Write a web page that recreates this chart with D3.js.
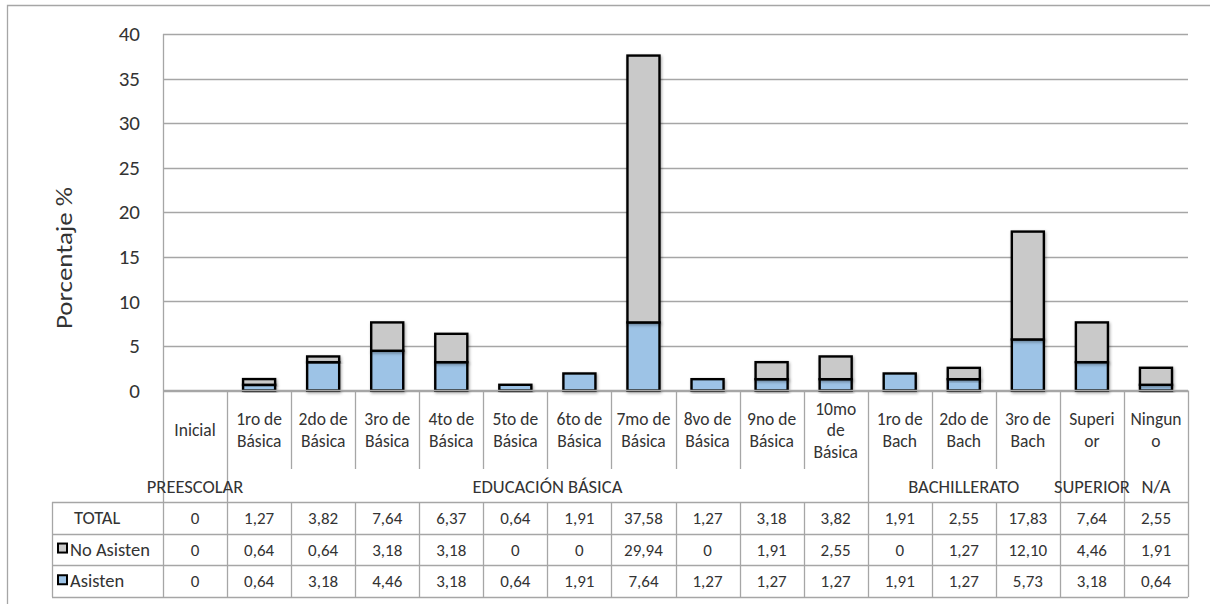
<!DOCTYPE html>
<html>
<head>
<meta charset="utf-8">
<script src="https://cdn.jsdelivr.net/npm/d3@7"></script>
<style>
  body { margin: 0; background: #fff; }
  text { font-family: Carlito, Calibri, Lato, sans-serif; fill: #333; }
</style>
</head>
<body>
<div id="chart"></div>
<script>
// categorías (cada una en líneas) y grupos
var categories = [
  ["Inicial"], ["1ro de", "Básica"], ["2do de", "Básica"], ["3ro de", "Básica"],
  ["4to de", "Básica"], ["5to de", "Básica"], ["6to de", "Básica"], ["7mo de", "Básica"],
  ["8vo de", "Básica"], ["9no de", "Básica"], ["10mo", "de", "Básica"],
  ["1ro de", "Bach"], ["2do de", "Bach"], ["3ro de", "Bach"], ["Superi", "or"], ["Ningun", "o"]
];
var groups = ["PREESCOLAR", "EDUCACIÓN BÁSICA", "BACHILLERATO", "SUPERIOR", "N/A"];
var groupSizes = [1, 10, 3, 1, 1];

var total     = [0, 1.27, 3.82, 7.64, 6.37, 0.64, 1.91, 37.58, 1.27, 3.18, 3.82, 1.91, 2.55, 17.83, 7.64, 2.55];
var noAsisten = [0, 0.64, 0.64, 3.18, 3.18, 0, 0, 29.94, 0, 1.91, 2.55, 0, 1.27, 12.10, 4.46, 1.91];
var asisten   = [0, 0.64, 3.18, 4.46, 3.18, 0.64, 1.91, 7.64, 1.27, 1.27, 1.27, 1.91, 1.27, 5.73, 3.18, 0.64];
var yTicks = [0, 5, 10, 15, 20, 25, 30, 35, 40];

var width = 1210, height = 604;
var plotLeft = 163, plotRight = 1188, plotTop = 34, zero = 390.5;
var catBottom = 469, tableTop = 502, rowH = 31.7, tableLeft = 52;
var gray = "#c9c9c9", blue = "#9dc3e6", lineCol = "#a6a6a6";
var fs = "18.5px", fsCat = "17.5px", fsNum = "17px";

var svg = d3.select("#chart").append("svg")
  .attr("width", width).attr("height", height);

var defs = svg.append("defs");
var f = defs.append("filter").attr("id", "sombra")
  .attr("x", "-30%").attr("y", "-30%").attr("width", "160%").attr("height", "160%");
f.append("feDropShadow").attr("dx", 1).attr("dy", 1.5).attr("stdDeviation", 1.6)
  .attr("flood-color", "#000").attr("flood-opacity", 0.35);

// marco exterior
svg.append("path").attr("d", "M7.5,604 V5.5 H1210")
  .attr("fill", "none").attr("stroke", lineCol).attr("stroke-width", 1.3);

var idx = d3.range(categories.length);
var x = d3.scaleBand().domain(idx).range([plotLeft, plotRight]).paddingInner(0.5).paddingOuter(0.25);
var xCell = d3.scaleBand().domain(idx).range([plotLeft, plotRight]).padding(0);
var y = d3.scaleLinear().domain([0, 40]).range([zero, plotTop]);

// cuadrícula
svg.append("g").selectAll("line").data(yTicks).enter().append("line")
  .attr("x1", plotLeft).attr("x2", plotRight)
  .attr("y1", d => Math.round(y(d)) + 0.5).attr("y2", d => Math.round(y(d)) + 0.5)
  .attr("stroke", lineCol).attr("stroke-width", 1.3);

// eje y
var yAxis = svg.append("g")
  .attr("transform", "translate(" + plotLeft + ",0)")
  .call(d3.axisLeft(y).tickValues(yTicks).tickSize(0).tickPadding(23));
yAxis.select(".domain").remove();
yAxis.selectAll("text").style("font-size", "21px").attr("fill", "#333")
  .style("font-family", "Carlito, Calibri, Lato, sans-serif");

svg.append("text")
  .attr("transform", "translate(72,258) rotate(-90)")
  .attr("text-anchor", "middle")
  .style("font-size", "21.5px")
  .attr("textLength", 142).attr("lengthAdjust", "spacingAndGlyphs")
  .text("Porcentaje %");

// barras apiladas
var rows = idx.map(i => ({ i: i, asisten: asisten[i], noAsisten: noAsisten[i] }));
var series = d3.stack().keys(["asisten", "noAsisten"])(rows);
var colors = { asisten: blue, noAsisten: gray };

svg.append("g").selectAll("g").data(series).enter().append("g")
  .attr("fill", d => colors[d.key])
  .selectAll("rect").data(d => d.filter(s => s[1] - s[0] > 0)).enter().append("rect")
  .attr("x", d => x(d.data.i))
  .attr("y", d => y(d[1]))
  .attr("width", x.bandwidth())
  .attr("height", d => y(d[0]) - y(d[1]))
  .attr("stroke", "#000").attr("stroke-width", 2.4)
  .attr("filter", "url(#sombra)");

// línea del eje x
svg.append("line").attr("x1", plotLeft).attr("x2", plotRight)
  .attr("y1", zero).attr("y2", zero)
  .attr("stroke", lineCol).attr("stroke-width", 1.3);

// separadores de categorías
var groupEdges = [0];
groupSizes.forEach(function (s) { groupEdges.push(groupEdges[groupEdges.length - 1] + s); });
var edges = d3.range(categories.length + 1);
svg.append("g").selectAll("line").data(edges).enter().append("line")
  .attr("x1", e => Math.round(plotLeft + e * xCell.step()) + 0.5)
  .attr("x2", e => Math.round(plotLeft + e * xCell.step()) + 0.5)
  .attr("y1", e => e === 0 ? plotTop : zero)
  .attr("y2", e => groupEdges.indexOf(e) >= 0 ? tableTop : catBottom)
  .attr("stroke", lineCol).attr("stroke-width", 1.3);

// etiquetas de categorías (una línea = un texto)
var catLines = [];
idx.forEach(function (i) {
  var lines = categories[i], lh = 21.5;
  var y0 = 430 - (lines.length - 1) * lh / 2 + 6;
  lines.forEach(function (l, k) { catLines.push({ i: i, t: l, y: y0 + k * lh }); });
});
svg.append("g").selectAll("text").data(catLines).enter().append("text")
  .attr("text-anchor", "middle")
  .attr("x", d => xCell(d.i) + xCell.bandwidth() / 2)
  .attr("y", d => d.y)
  .style("font-size", fsCat)
  .text(d => d.t);

// etiquetas de grupos
svg.append("g").selectAll("text").data(groups).enter().append("text")
  .attr("text-anchor", "middle")
  .attr("x", (g, k) => plotLeft + (groupEdges[k] + groupEdges[k + 1]) / 2 * xCell.step())
  .attr("y", 493)
  .style("font-size", fs)
  .text(g => g);

// tabla de datos
var fmt = v => v === 0 ? "0" : v.toFixed(2).replace(".", ",");
var tableRows = [
  { name: "TOTAL", values: total, swatch: null },
  { name: "No Asisten", values: noAsisten, swatch: gray },
  { name: "Asisten", values: asisten, swatch: blue }
];
var tableBottom = tableTop + rowH * 3;
var tg = svg.append("g");
d3.range(4).forEach(function (k) {
  tg.append("line").attr("x1", tableLeft).attr("x2", plotRight)
    .attr("y1", Math.round(tableTop + k * rowH) + 0.5).attr("y2", Math.round(tableTop + k * rowH) + 0.5)
    .attr("stroke", lineCol).attr("stroke-width", 1.3);
});
[tableLeft].concat(edges.map(e => plotLeft + e * xCell.step())).forEach(function (xx) {
  tg.append("line").attr("x1", Math.round(xx) + 0.5).attr("x2", Math.round(xx) + 0.5)
    .attr("y1", tableTop).attr("y2", tableBottom)
    .attr("stroke", lineCol).attr("stroke-width", 1.3);
});
tableRows.forEach(function (r, k) {
  var cy = tableTop + k * rowH + rowH / 2 + 6;
  if (r.swatch) {
    tg.append("rect").attr("x", 58).attr("y", cy - 12).attr("width", 9).attr("height", 9)
      .attr("fill", r.swatch).attr("stroke", "#000").attr("stroke-width", 2);
    tg.append("text").attr("x", 70).attr("y", cy).style("font-size", fs).text(r.name);
  } else {
    tg.append("text").attr("x", 74).attr("y", cy).style("font-size", fs).text(r.name);
  }
  tg.selectAll(null).data(r.values).enter().append("text")
    .attr("text-anchor", "middle")
    .attr("x", (v, i) => xCell(i) + xCell.bandwidth() / 2)
    .attr("y", cy)
    .style("font-size", fsNum)
    .text(v => fmt(v));
});
</script>
</body>
</html>
